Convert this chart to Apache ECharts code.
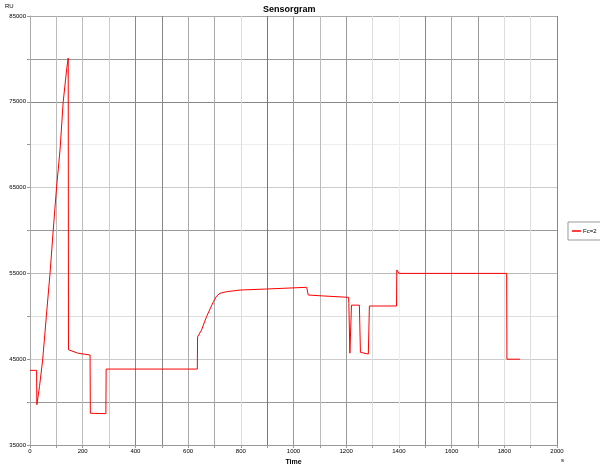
<!DOCTYPE html>
<html><head><meta charset="utf-8">
<script src="https://cdn.jsdelivr.net/npm/echarts@6/dist/echarts.min.js"></script>
<style>html,body{margin:0;padding:0;background:#fff}#c{width:600px;height:464px}</style>
</head><body><div id="c"></div>
<script>
const seriesName = 'Fc=2';
const time = [0,25,26,31,36,48,62,76,88,101,114,126,140,145,146,152,183,228,229,288,289,635,636,651,670,696,708,721,746,797,898,1050,1056,1113,1209,1210,1214,1218,1220,1250,1254,1258,1284,1288,1391,1392,1401,1809,1810,1860];
const response = [43700,43700,39700,39500,41800,44900,50000,55000,60000,65100,69400,75000,79000,80100,46100,45900,45690,45490,38700,38650,43850,43850,47600,48400,49960,51700,52350,52680,52870,53060,53180,53380,52480,52370,52210,51500,45700,45800,51300,51300,45800,45600,45600,51200,51200,55400,55000,55000,45000,45000];
const xColors = ['#aaa','#bbb','#bbb','#ccc','#888','#888','#aaa','#aaa','#ddd','#777','#999','#bbb','#999','#ddd','#eee','#888','#aaa','#999','#ddd','#ddd','#888'];
const yColors = ['#999','#999','#ccc','#ddd','#bbb','#999','#ccc','#eee','#888','#999','#aaa'];

const F = 'Liberation Sans, Arial, sans-serif';
const chart = echarts.init(document.getElementById('c'), null, {renderer:'canvas'});
chart.setOption({
  animation:false,
  backgroundColor:'#fff',
  title:{text:'Sensorgram', left:258, top:0, textStyle:{fontFamily:F, fontSize:9, fontWeight:'bold', color:'#000'}},
  legend:{data:[seriesName], left:568, top:222, orient:'vertical', padding:[6,6,6,4], itemWidth:9, itemHeight:1.5, itemGap:2,
    icon:'rect', borderColor:'#999', borderWidth:1, textStyle:{fontFamily:F, fontSize:6, color:'#000', padding:[0,0,0,-3]}},
  grid:{left:30, right:43, top:16, bottom:19, containLabel:false, outerBoundsMode:'none'},
  xAxis:{type:'value', min:0, max:2000, interval:100,
    name:'Time', nameLocation:'middle', nameGap:12, nameTextStyle:{fontFamily:F, fontSize:7, fontWeight:'bold', color:'#000'},
    axisLine:{show:true, onZero:false, lineStyle:{color:'#999', width:1}},
    axisTick:{show:true, length:3, lineStyle:{color:'#999'}},
    axisLabel:{fontFamily:F, fontSize:6, color:'#000', margin:3, formatter:v => (v % 200 === 0 ? String(v) : '')},
    splitLine:{show:true, lineStyle:{color:xColors, width:1}}},
  yAxis:{type:'value', min:35000, max:85000, interval:5000,
    name:'Response', nameLocation:'middle', nameGap:22, nameRotate:90, nameTextStyle:{fontFamily:F, fontSize:6, fontWeight:'bold', color:'#000'},
    axisLine:{show:true, onZero:false, lineStyle:{color:'#aaa', width:1}},
    axisTick:{show:true, length:3, lineStyle:{color:'#999'}},
    axisLabel:{fontFamily:F, fontSize:6, color:'#000', margin:4, formatter:v => ((v - 35000) % 10000 === 0 ? String(v) : '')},
    splitLine:{show:true, lineStyle:{color:yColors, width:1}}},
  graphic:[
    {type:'text', left:5, top:3, style:{text:'RU', fontFamily:F, fontSize:6, fill:'#000'}},
    {type:'text', left:561, top:457, style:{text:'s', fontFamily:F, fontSize:6, fill:'#000'}}
  ],
  series:[{name:seriesName, type:'line', data:time.map((t,i)=>[t,response[i]]), symbol:'none', showSymbol:false,
    lineStyle:{color:'#ff0000', width:1}, itemStyle:{color:'#ff0000'}}]
});
</script></body></html>
